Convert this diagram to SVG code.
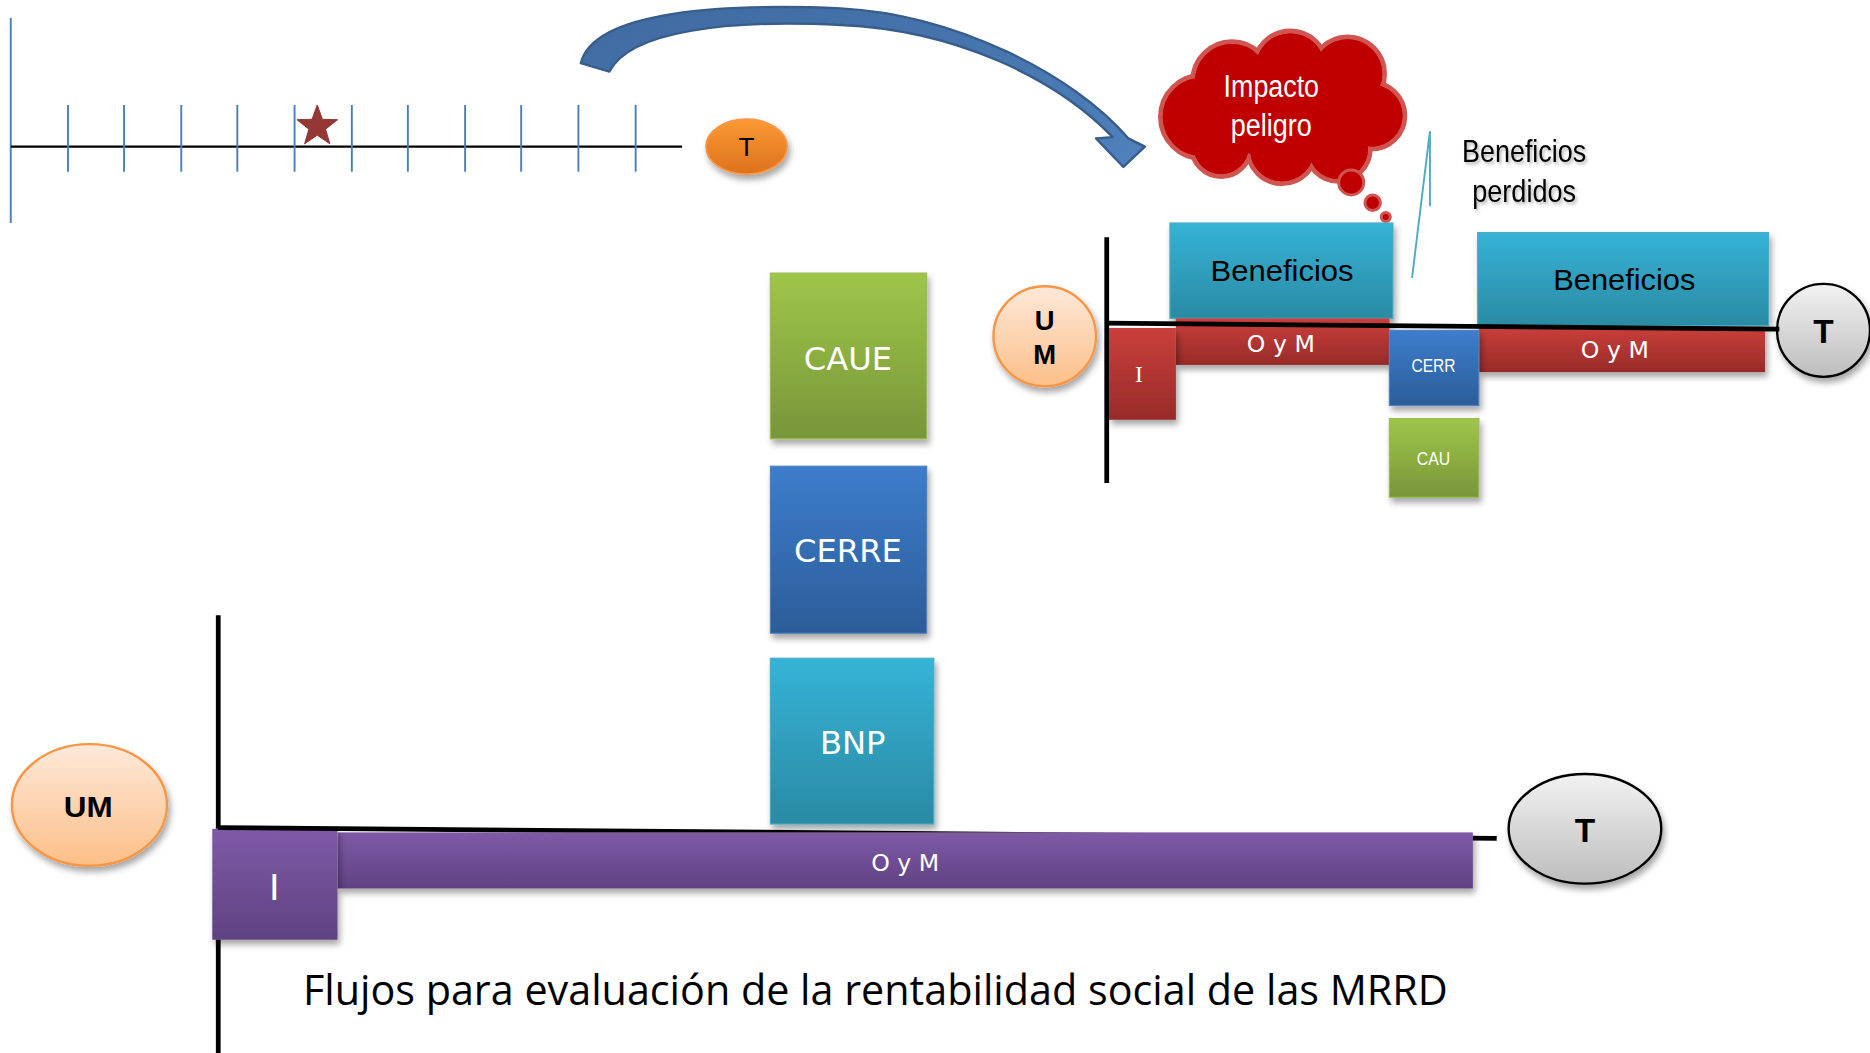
<svg xmlns="http://www.w3.org/2000/svg" width="1870" height="1053" viewBox="0 0 1870 1053">
<defs>
  <filter id="sh" x="-20%" y="-20%" width="150%" height="160%">
    <feDropShadow dx="2" dy="4" stdDeviation="2.5" flood-color="#000" flood-opacity="0.35"/>
  </filter>
  <filter id="tsh" x="-10%" y="-20%" width="130%" height="150%">
    <feDropShadow dx="1.5" dy="2" stdDeviation="1.2" flood-color="#000" flood-opacity="0.3"/>
  </filter>
  <clipPath id="notBar">
    <path clip-rule="evenodd" d="M0,0 H1568 V883 H0 Z M283,698 H1235 V745 H283 Z"/>
  </clipPath>
  <linearGradient id="gOrange" x1="0" y1="0" x2="0" y2="1"><stop offset="0" stop-color="#fb9a35"/><stop offset="1" stop-color="#dd711c"/></linearGradient>
  <linearGradient id="gPeach" x1="0" y1="0" x2="0" y2="1"><stop offset="0" stop-color="#fee9da"/><stop offset="1" stop-color="#fcbf88"/></linearGradient>
  <linearGradient id="gGray" x1="0" y1="0" x2="0" y2="1"><stop offset="0" stop-color="#f2f2f2"/><stop offset="1" stop-color="#bdbdbd"/></linearGradient>
  <linearGradient id="gRed" x1="0" y1="0" x2="0" y2="1"><stop offset="0" stop-color="#ca3f3b"/><stop offset="1" stop-color="#982b29"/></linearGradient>
  <linearGradient id="gTeal" x1="0" y1="0" x2="0" y2="1"><stop offset="0" stop-color="#35b3d7"/><stop offset="1" stop-color="#2a8aa3"/></linearGradient>
  <linearGradient id="gBlue" x1="0" y1="0" x2="0" y2="1"><stop offset="0" stop-color="#3d7dcc"/><stop offset="1" stop-color="#2c5d99"/></linearGradient>
  <linearGradient id="gGreen" x1="0" y1="0" x2="0" y2="1"><stop offset="0" stop-color="#9fc64a"/><stop offset="1" stop-color="#779639"/></linearGradient>
  <linearGradient id="gPurple" x1="0" y1="0" x2="0" y2="1"><stop offset="0" stop-color="#7f5aa7"/><stop offset="1" stop-color="#5f4282"/></linearGradient>
  <linearGradient id="gArrow" x1="0" y1="0" x2="1" y2="1"><stop offset="0" stop-color="#3f6aa0"/><stop offset="1" stop-color="#4f81bd"/></linearGradient>
</defs>
<style>
  .ax { stroke: #000; stroke-width: 4; fill: none; }
  .bl { stroke: #4a7ebb; stroke-width: 1.6; fill: none; }
  .w { fill: #fff; }
  .k { fill: #000; }
  .dj { font-family: "DejaVu Sans", sans-serif; }
  .ls { font-family: "Liberation Sans", Arial, sans-serif; }
  .nw { font-family: "Liberation Sans Narrow", "Liberation Sans", sans-serif; }
  .b { font-weight: bold; }
  .box { filter: url(#sh); }
</style>
<rect width="1870" height="1053" fill="#fff"/>
<g transform="scale(1.19260,1.19253)">

<g id="star">
  <polygon points="266,88 270.3,100 283,100.4 273,108.3 276.6,120.6 266,113.4 255.4,120.6 259,108.3 249,100.4 261.7,100" fill="#953735" stroke="#8a3230" stroke-width="0.8"/>
</g>

<g id="t-orange">
  <ellipse cx="626" cy="123" rx="34" ry="23" fill="url(#gOrange)" stroke="#f79646" stroke-width="1.5" filter="url(#sh)"/>
  <text x="626" y="131" text-anchor="middle" class="ls k" font-size="22">T</text>
</g>

<g id="cloud">
  <g fill="#c00000" stroke="#d05550" stroke-width="4">
    <circle cx="1008" cy="98" r="35"/>
    <circle cx="1033" cy="68" r="33"/>
    <circle cx="1082" cy="57" r="31"/>
    <circle cx="1130" cy="62" r="31"/>
    <circle cx="1150" cy="97" r="28"/>
    <circle cx="1122" cy="125" r="27"/>
    <circle cx="1075" cy="125" r="29"/>
    <circle cx="1024" cy="123" r="25"/>
  </g>
  <g fill="#c00000">
    <circle cx="1008" cy="98" r="33"/>
    <circle cx="1033" cy="68" r="31"/>
    <circle cx="1082" cy="57" r="29"/>
    <circle cx="1130" cy="62" r="29"/>
    <circle cx="1150" cy="97" r="26"/>
    <circle cx="1122" cy="125" r="25"/>
    <circle cx="1075" cy="125" r="27"/>
    <circle cx="1024" cy="123" r="23"/>
    <ellipse cx="1078" cy="94" rx="62" ry="40"/>
  </g>
  <g fill="#c00000" stroke="#d05550" stroke-width="2.5">
    <circle cx="1133" cy="153" r="10.5"/>
    <circle cx="1151" cy="170" r="6.5"/>
    <circle cx="1162" cy="182" r="3.8"/>
  </g>
  <text x="1066" y="81" text-anchor="middle" class="nw w" font-size="26" textLength="80" lengthAdjust="spacingAndGlyphs">Impacto</text>
  <text x="1066" y="114" text-anchor="middle" class="nw w" font-size="26" textLength="68" lengthAdjust="spacingAndGlyphs">peligro</text>
</g>

<g id="beneficios-perdidos" filter="url(#tsh)">
  <text x="1278" y="136" text-anchor="middle" class="nw k" font-size="27" textLength="104" lengthAdjust="spacingAndGlyphs">Beneficios</text>
  <text x="1278" y="169" text-anchor="middle" class="nw k" font-size="27" textLength="87" lengthAdjust="spacingAndGlyphs">perdidos</text>
</g>

<!-- upper diagram -->
<g id="um-upper">
  <ellipse cx="876" cy="282" rx="43" ry="42" fill="url(#gPeach)" stroke="#f79646" stroke-width="2" filter="url(#sh)"/>
  <text x="876" y="277" text-anchor="middle" class="ls b k" font-size="23">U</text>
  <text x="876" y="305" text-anchor="middle" class="ls b k" font-size="23">M</text>
</g>

<g id="beneficios-1">
  <rect x="981" y="187" width="187" height="80" fill="url(#gTeal)" stroke="#4bacc6" stroke-width="1" class="box"/>
  <text x="1075" y="236" text-anchor="middle" class="ls k" font-size="25" textLength="120" lengthAdjust="spacingAndGlyphs">Beneficios</text>
</g>

<g id="oym-1">
  <rect x="986" y="267" width="179" height="39" fill="url(#gRed)" class="box"/>
  <text x="1074" y="295" text-anchor="middle" class="dj w" font-size="20" textLength="57" lengthAdjust="spacingAndGlyphs">O y M</text>
</g>

<g id="i-red">
  <rect x="930" y="275" width="56" height="77" fill="url(#gRed)" class="box"/>
  <text x="955" y="320" text-anchor="middle" font-family="Liberation Serif, serif" class="w" font-size="20">I</text>
</g>

<g id="beneficios-2">
  <rect x="1239" y="195" width="244" height="78" fill="url(#gTeal)" stroke="#4bacc6" stroke-width="1" class="box"/>
  <text x="1362" y="243" text-anchor="middle" class="ls k" font-size="25" textLength="119" lengthAdjust="spacingAndGlyphs">Beneficios</text>
</g>

<g id="oym-2">
  <rect x="1240" y="274" width="240" height="38" fill="url(#gRed)" class="box"/>
  <text x="1354" y="300" text-anchor="middle" class="dj w" font-size="20" textLength="57" lengthAdjust="spacingAndGlyphs">O y M</text>
</g>

<g id="cerr">
  <rect x="1165" y="277" width="75" height="63" fill="url(#gBlue)" stroke="#4f81bd" stroke-width="1" class="box"/>
  <text x="1202" y="312" text-anchor="middle" class="nw w" font-size="16" textLength="37" lengthAdjust="spacingAndGlyphs">CERR</text>
</g>

<g id="cau">
  <rect x="1165" y="351" width="75" height="66" fill="url(#gGreen)" stroke="#9bbb59" stroke-width="1" class="box"/>
  <text x="1202" y="390" text-anchor="middle" class="nw w" font-size="16" textLength="28" lengthAdjust="spacingAndGlyphs">CAU</text>
</g>

<g id="t-upper">
  <circle cx="1529" cy="277" r="39" fill="url(#gGray)" stroke="#000" stroke-width="2" filter="url(#sh)"/>
  <text x="1529" y="288" text-anchor="middle" class="ls b k" font-size="28">T</text>
</g>

<!-- middle column -->
<g id="caue">
  <rect x="646" y="229" width="131" height="139" fill="url(#gGreen)" stroke="#9bbb59" stroke-width="1" class="box"/>
  <text x="711" y="310" text-anchor="middle" class="dj w" font-size="27">CAUE</text>
</g>

<g id="cerre">
  <rect x="646" y="391" width="131" height="140" fill="url(#gBlue)" stroke="#4f81bd" stroke-width="1" class="box"/>
  <text x="711" y="471" text-anchor="middle" class="dj w" font-size="27">CERRE</text>
</g>

<g id="bnp">
  <rect x="646" y="552" width="137" height="139" fill="url(#gTeal)" stroke="#4bacc6" stroke-width="1" class="box"/>
  <text x="715" y="632" text-anchor="middle" class="dj w" font-size="27">BNP</text>
</g>

<!-- lower diagram -->
<g id="um-lower">
  <ellipse cx="75" cy="675" rx="65" ry="51" fill="url(#gPeach)" stroke="#f79646" stroke-width="2" filter="url(#sh)"/>
  <text x="74" y="685" text-anchor="middle" class="ls b k" font-size="25" textLength="41" lengthAdjust="spacingAndGlyphs">UM</text>
</g>

<g id="oym-lower">
  <rect x="283" y="698" width="952" height="47" fill="url(#gPurple)" class="box"/>
  <text x="759" y="730" text-anchor="middle" class="dj w" font-size="20" textLength="57" lengthAdjust="spacingAndGlyphs">O y M</text>
</g>

<g id="i-lower">
  <rect x="178" y="695" width="105" height="93" fill="url(#gPurple)" class="box"/>
  <text x="230" y="755" text-anchor="middle" class="dj w" font-size="30">I</text>
</g>

<g id="t-lower">
  <ellipse cx="1329" cy="695" rx="64" ry="46" fill="url(#gGray)" stroke="#000" stroke-width="2" filter="url(#sh)"/>
  <text x="1329" y="706" text-anchor="middle" class="ls b k" font-size="28">T</text>
</g>

<g id="caption">
  <text x="254" y="843" font-family="Open Sans, Noto Sans, sans-serif" font-size="35" class="k" textLength="960" lengthAdjust="spacingAndGlyphs">Flujos para evaluación de la rentabilidad social de las MRRD</text>
</g>

<g id="connectors">
  <!-- top timeline -->
  <line class="bl" x1="9" y1="15" x2="9" y2="187"/>
  <line x1="9" y1="123" x2="572" y2="123" stroke="#000" stroke-width="2"/>
  <g class="bl">
    <line x1="57" y1="88" x2="57" y2="144"/>
    <line x1="104" y1="88" x2="104" y2="144"/>
    <line x1="152" y1="88" x2="152" y2="144"/>
    <line x1="199" y1="88" x2="199" y2="144"/>
    <line x1="247" y1="88" x2="247" y2="144"/>
    <line x1="295" y1="88" x2="295" y2="144"/>
    <line x1="342" y1="88" x2="342" y2="144"/>
    <line x1="390" y1="88" x2="390" y2="144"/>
    <line x1="437" y1="88" x2="437" y2="144"/>
    <line x1="485" y1="88" x2="485" y2="144"/>
    <line x1="533" y1="88" x2="533" y2="144"/>
  </g>
  <!-- curved arrow -->
  <path d="M487,53 C498,8 610,3 705,7 C800,12 900,62 946,116 L960,123 L942,140 L919,116 L933,115 C885,65 800,25 705,21 C610,16 528,26 511,60 Z" fill="url(#gArrow)" stroke="#385d8a" stroke-width="2" stroke-linejoin="round"/>
  <!-- callout line -->
  <polyline points="1199,173 1199,110 1184,233" fill="none" stroke="#4bacc6" stroke-width="1.6"/>
  <!-- upper axes -->
  <line class="ax" x1="928" y1="199" x2="928" y2="405"/>
  <line class="ax" x1="928" y1="271" x2="1492" y2="276"/>
  <!-- lower axes -->
  <line class="ax" x1="183" y1="516" x2="183" y2="695"/>
  <line class="ax" x1="183" y1="788" x2="183" y2="883"/>
  <line class="ax" x1="183" y1="694" x2="1255" y2="703" clip-path="url(#notBar)"/>
</g>

</g>
</svg>
